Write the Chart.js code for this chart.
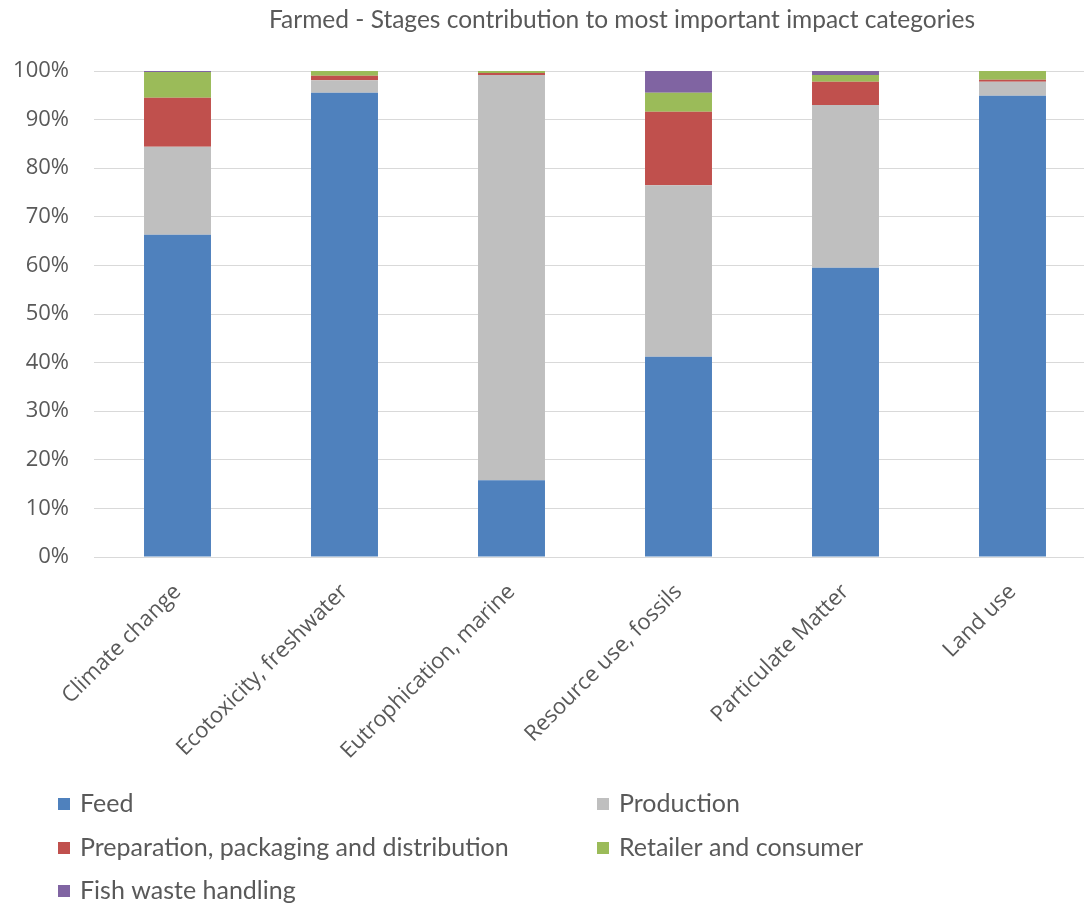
<!DOCTYPE html>
<html>
<head>
<meta charset="utf-8">
<script src="https://cdn.jsdelivr.net/npm/chart.js@4/dist/chart.umd.min.js"></script>
<style>
html,body{margin:0;padding:0;background:#fff;overflow:hidden;}
#wrap{width:1084px;height:905px;position:relative;overflow:hidden;}
canvas{display:block;}
</style>
</head>
<body>
<div id="wrap"><canvas id="c" width="1120" height="905"></canvas></div>
<script>
const categories = ["Climate change", "Ecotoxicity, freshwater", "Eutrophication, marine", "Resource use, fossils", "Particulate Matter", "Land use"];
const feed        = [66.3, 95.5, 15.8, 41.2, 59.5, 94.9];
const production  = [18.1, 2.6, 83.4, 35.3, 33.5, 2.9];
const preparation = [10.1, 0.9, 0.4, 15.1, 4.8, 0.4];
const retailer    = [5.3, 1.0, 0.4, 3.9, 1.4, 1.8];
const fishWaste   = [0.2, 0.0, 0.0, 4.5, 0.8, 0.0];
const seriesNames = ["Feed", "Production", "Preparation, packaging and distribution", "Retailer and consumer", "Fish waste handling"];
const seriesColors = ["#4f81bd", "#bfbfbf", "#c0504d", "#9bbb59", "#8064a2"];
const titleText = "Farmed - Stages contribution to most important impact categories";

const seriesData = [feed, production, preparation, retailer, fishWaste];

const titleAndLegend = {
  id: 'titleAndLegend',
  afterDraw(chart) {
    const ctx = chart.ctx;
    ctx.save();
    ctx.textBaseline = 'middle';
    ctx.fillStyle = '#595959';
    ctx.font = '24.5px Lato';
    ctx.textAlign = 'center';
    ctx.fillText(titleText, 622, 20);
    ctx.font = '25px Lato';
    const colX = [58, 597];
    const rowY = [804, 848, 891];
    chart.data.datasets.forEach((ds, i) => {
      const x = colX[i % 2];
      const y = rowY[Math.floor(i / 2)];
      ctx.fillStyle = ds.backgroundColor;
      ctx.fillRect(x, y - 6, 12, 12);
      ctx.fillStyle = '#595959';
      ctx.textAlign = 'left';
      ctx.fillText(ds.label, x + 22, y);
    });
    ctx.restore();
  }
};

function build() {
  new Chart(document.getElementById('c'), {
    type: 'bar',
    data: {
      labels: categories,
      datasets: seriesNames.map((n, i) => ({
        label: n,
        data: seriesData[i],
        backgroundColor: seriesColors[i],
        borderWidth: 0,
        barPercentage: 1,
        categoryPercentage: 0.401
      }))
    },
    options: {
      responsive: false,
      animation: false,
      layout: { padding: { left: 0, right: 24, top: 71, bottom: 140 } },
      plugins: {
        legend: { display: false },
        tooltip: { enabled: false },
        title: { display: false }
      },
      scales: {
        x: {
          stacked: true,
          grid: { display: false, drawTicks: false },
          border: { display: true, color: '#d9d9d9', width: 1 },
          ticks: {
            color: '#595959',
            font: { family: "'Open Sans'", size: 22 },
            minRotation: 45,
            maxRotation: 45,
            padding: 22,
            autoSkip: false
          },
          afterFit(s) { s.height = 208; }
        },
        y: {
          stacked: true,
          min: 0,
          max: 100,
          grid: { color: '#d9d9d9', lineWidth: 1, drawTicks: false },
          border: { display: false },
          ticks: {
            stepSize: 10,
            color: '#595959',
            font: { family: "'Open Sans'", size: 22 },
            padding: 25,
            callback: v => v + '%'
          },
          afterFit(s) { s.width = 94; }
        }
      }
    },
    plugins: [titleAndLegend]
  });
}

Promise.all([
  document.fonts.load('22px "Open Sans"'),
  document.fonts.load('25px Lato')
]).then(build, build);
</script>
</body>
</html>
